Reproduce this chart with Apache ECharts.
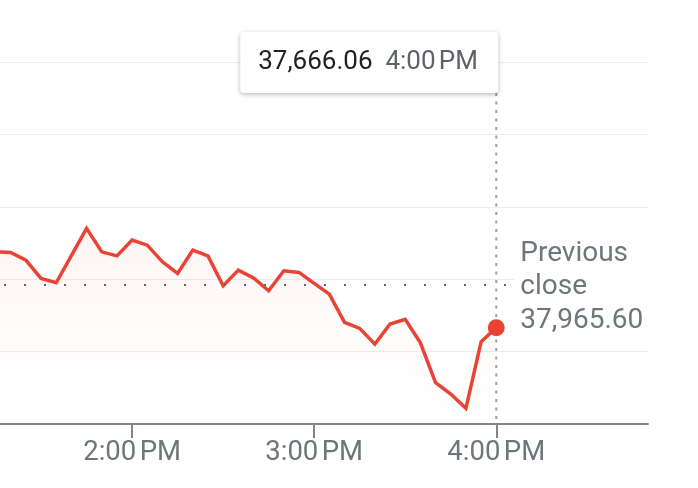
<!DOCTYPE html>
<html>
<head>
<meta charset="utf-8">
<script src="https://cdn.jsdelivr.net/npm/echarts@6/dist/echarts.min.js"></script>
<style>
html,body{margin:0;padding:0;background:#fff;overflow:hidden;width:698px;height:488px;position:relative;}
#chart{position:absolute;left:-50px;top:-10px;width:748px;height:498px;}
</style>
</head>
<body>
<div id="chart"></div>
<script>
// minutes since midnight
const times = [795, 800, 805, 810, 815, 820, 825, 830, 835, 840, 845, 850, 855, 860, 865, 870, 875, 880, 885, 890, 895, 900, 905, 910, 915, 920, 925, 930, 935, 940, 945, 950, 955, 960];
const prices = [38191, 38186, 38133, 38006, 37976, 38164, 38352, 38190, 38162, 38271, 38236, 38121, 38041, 38202, 38162, 37955, 38064, 38010, 37921, 38059, 38048, 37972, 37898, 37702, 37661, 37552, 37691, 37723, 37561, 37285, 37207, 37108, 37568, 37666.06];
const previousClose = 37965.60;
const tickTimes = [840, 900, 960];
const tickLabels = ['2:00\u202fPM', '3:00\u202fPM', '4:00\u202fPM'];
const yTicks = [37000, 37500, 38000, 38500, 39000, 39500, 40000];

const RED = '#ea4335';
const fmt = v => v.toLocaleString('en-US', {minimumFractionDigits: 2, maximumFractionDigits: 2});
const timeLabel = t => {
  const i = tickTimes.indexOf(t);
  if (i >= 0) return tickLabels[i];
  let h = Math.floor(t / 60), m = t % 60;
  const ap = h >= 12 ? 'PM' : 'AM';
  h = h % 12 || 12;
  return h + ':' + String(m).padStart(2, '0') + '\u202f' + ap;
};

const data = times.map((t, i) => [t, prices[i]]);
const last = data[data.length - 1];

const chart = echarts.init(document.getElementById('chart'), null, {renderer: 'canvas'});
chart.setOption({
  animation: false,
  textStyle: {fontFamily: 'Roboto'},
  grid: {left: 0, right: 50, top: 0, bottom: 64, containLabel: false},
  xAxis: {
    type: 'value',
    min: 780,
    max: 1010,
    axisLine: {show: true, lineStyle: {color: '#80868b', width: 2}},
    axisTick: {show: true, customValues: tickTimes, length: 14, lineStyle: {color: '#80868b', width: 2}},
    axisLabel: {show: true, customValues: tickTimes, formatter: v => timeLabel(v), color: '#70757a', fontSize: 27.5, fontFamily: 'Roboto', margin: 15},
    splitLine: {show: false}
  },
  yAxis: {
    type: 'value',
    min: yTicks[0],
    max: yTicks[yTicks.length - 1],
    interval: 500,
    axisLine: {show: false},
    axisTick: {show: false},
    axisLabel: {show: false},
    splitLine: {show: true, lineStyle: {color: '#ececec', width: 1}}
  },
  series: [
    {
      type: 'line',
      data: data,
      symbol: 'none',
      clip: true,
      lineStyle: {color: RED, width: 3.5, join: 'miter'},
      areaStyle: {
        origin: 'start',
        color: new echarts.graphic.LinearGradient(0, 0, 0, 1, [
          {offset: 0, color: 'rgba(234,67,53,0.08)'},
          {offset: 0.6, color: 'rgba(234,67,53,0.025)'},
          {offset: 1, color: 'rgba(234,67,53,0)'}
        ])
      },
      z: 3,
      markLine: {
        silent: true,
        symbol: 'none',
        label: {show: false},
        lineStyle: {color: '#5f6368', width: 2, type: [2, 18], dashOffset: 6},
        data: [{yAxis: previousClose}]
      }
    },
    {
      type: 'scatter',
      data: [last],
      symbol: 'circle',
      symbolSize: 17,
      itemStyle: {color: RED, opacity: 1},
      z: 5
    }
  ]
});

const p = chart.convertToPixel({gridIndex: 0}, last);
const pc = chart.convertToPixel({gridIndex: 0}, [last[0], previousClose]);
const axisY = chart.convertToPixel({gridIndex: 0}, [last[0], yTicks[0]])[1];
const boxW = 258, boxH = 61, boxTop = 42;
const boxLeft = p[0] + 2 - boxW;

chart.setOption({
  graphic: [
    {
      type: 'line',
      z: 1,
      silent: true,
      shape: {x1: p[0], y1: boxTop + boxH, x2: p[0], y2: axisY},
      style: {stroke: '#9aa0a6', lineWidth: 2, lineDash: [3, 5.5]}
    },
    {
      type: 'rect',
      z: 100,
      silent: true,
      shape: {x: pc[0] + 18, y: pc[1] - 48, width: 136, height: 102},
      style: {fill: '#ffffff'}
    },
    {
      type: 'text',
      z: 101,
      silent: true,
      x: pc[0] + 24,
      y: pc[1] + 3,
      style: {
        text: 'Previous\nclose\n' + fmt(previousClose),
        fill: '#70757a',
        font: '28px Roboto',
        lineHeight: 33.5,
        verticalAlign: 'middle',
        align: 'left'
      }
    },
    {
      type: 'rect',
      z: 100,
      silent: true,
      shape: {x: boxLeft, y: boxTop, width: boxW, height: boxH, r: 4},
      style: {fill: '#ffffff', shadowBlur: 5, shadowOffsetY: 1.5, shadowColor: 'rgba(0,0,0,0.28)'}
    },
    {
      type: 'text',
      z: 101,
      silent: true,
      x: boxLeft + 18,
      y: boxTop + boxH / 2,
      style: {
        text: '{v|' + fmt(last[1]) + '}{t|  ' + timeLabel(last[0]) + '}',
        verticalAlign: 'middle',
        rich: {
          v: {fill: '#202124', font: '26px Roboto'},
          t: {fill: '#5f6368', font: '26px Roboto'}
        }
      }
    }
  ]
});
</script>
</body>
</html>
